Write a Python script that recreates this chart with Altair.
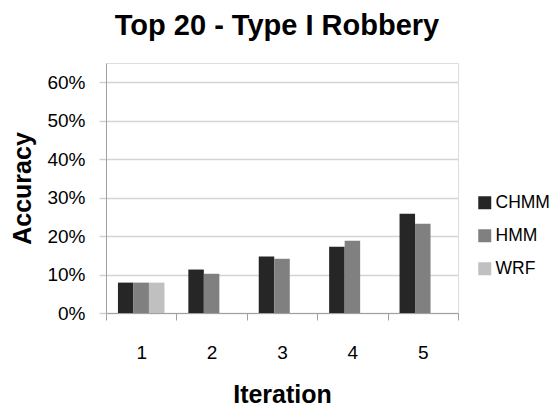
import altair as alt
import pandas as pd

iterations = ["1", "2", "3", "4", "5"]
series = ["CHMM", "HMM", "WRF"]
chmm = [0.079, 0.113, 0.147, 0.172, 0.258]
hmm = [0.079, 0.102, 0.141, 0.188, 0.232]
wrf = [0.079, None, None, None, None]
colors = ["#262626", "#808080", "#c0c0c0"]
y_ticks = [0, 0.1, 0.2, 0.3, 0.4, 0.5, 0.6]

rows = []
for name, vals in zip(series, [chmm, hmm, wrf]):
    for it, v in zip(iterations, vals):
        if v is not None:
            rows.append({"Iteration": it, "Series": name, "Accuracy": v})
df = pd.DataFrame(rows)

FONT = "Liberation Sans"

chart = (
    alt.Chart(df)
    .mark_bar()
    .encode(
        x=alt.X(
            "Iteration:N",
            sort=iterations,
            scale=alt.Scale(domain=iterations, paddingInner=0, paddingOuter=0),
            axis=alt.Axis(
                title="Iteration",
                labelAngle=0,
                tickBand="extent",
                tickSize=7,
                tickColor="#a0a0a0",
                domainColor="#a0a0a0",
                labelFont=FONT,
                labelFontSize=19,
                labelColor="#000000",
                labelBaseline="alphabetic",
                labelPadding=38,
                titleFont=FONT,
                titleFontSize=25,
                titleFontWeight="bold",
                titleColor="#000000",
                titleBaseline="alphabetic",
                titleY=89,
                grid=False,
            ),
        ),
        xOffset=alt.XOffset(
            "Series:N",
            scale=alt.Scale(domain=series, paddingInner=0, paddingOuter=0.77),
        ),
        y=alt.Y(
            "Accuracy:Q",
            scale=alt.Scale(domain=[0, 0.65], nice=False),
            axis=alt.Axis(
                title="Accuracy",
                values=y_ticks,
                format=".0%",
                tickSize=7,
                tickColor="#d0d0d0",
                tickWidth=1.5,
                domainColor="#a0a0a0",
                gridColor="#d4d4d4",
                gridWidth=1.5,
                labelFont=FONT,
                labelFontSize=19,
                labelColor="#000000",
                labelPadding=14,
                titleFont=FONT,
                titleFontSize=25,
                titleFontWeight="bold",
                titleColor="#000000",
                titleAngle=270,
                titleBaseline="alphabetic",
                titleAlign="center",
                titleX=-76,
                titleY=125,
            ),
        ),
        color=alt.Color(
            "Series:N",
            scale=alt.Scale(domain=series, range=colors),
            legend=alt.Legend(
                title=None,
                orient="none",
                legendX=370,
                legendY=131,
                symbolType="square",
                symbolSize=169,
                symbolStrokeWidth=0,
                labelFont=FONT,
                labelFontSize=17.5,
                labelColor="#000000",
                labelOffset=2,
                rowPadding=14,
                padding=0,
            ),
        ),
    )
    .properties(
        width=352,
        height=250,
        padding={"left": 106, "top": 63, "right": 96, "bottom": 97},
        autosize=alt.AutoSizeParams(type="none"),
        title=alt.TitleParams(
            "Top 20 - Type I Robbery",
            font=FONT,
            fontSize=29,
            fontWeight="bold",
            color="#000000",
            anchor="middle",
            frame="group",
            baseline="alphabetic",
            offset=0,
            dx=-5,
            dy=1,
        ),
    )
    .configure_view(stroke=None)
    .configure(background="#ffffff")
)

chart.save("out.html", embed_options={"renderer": "svg", "actions": False})
